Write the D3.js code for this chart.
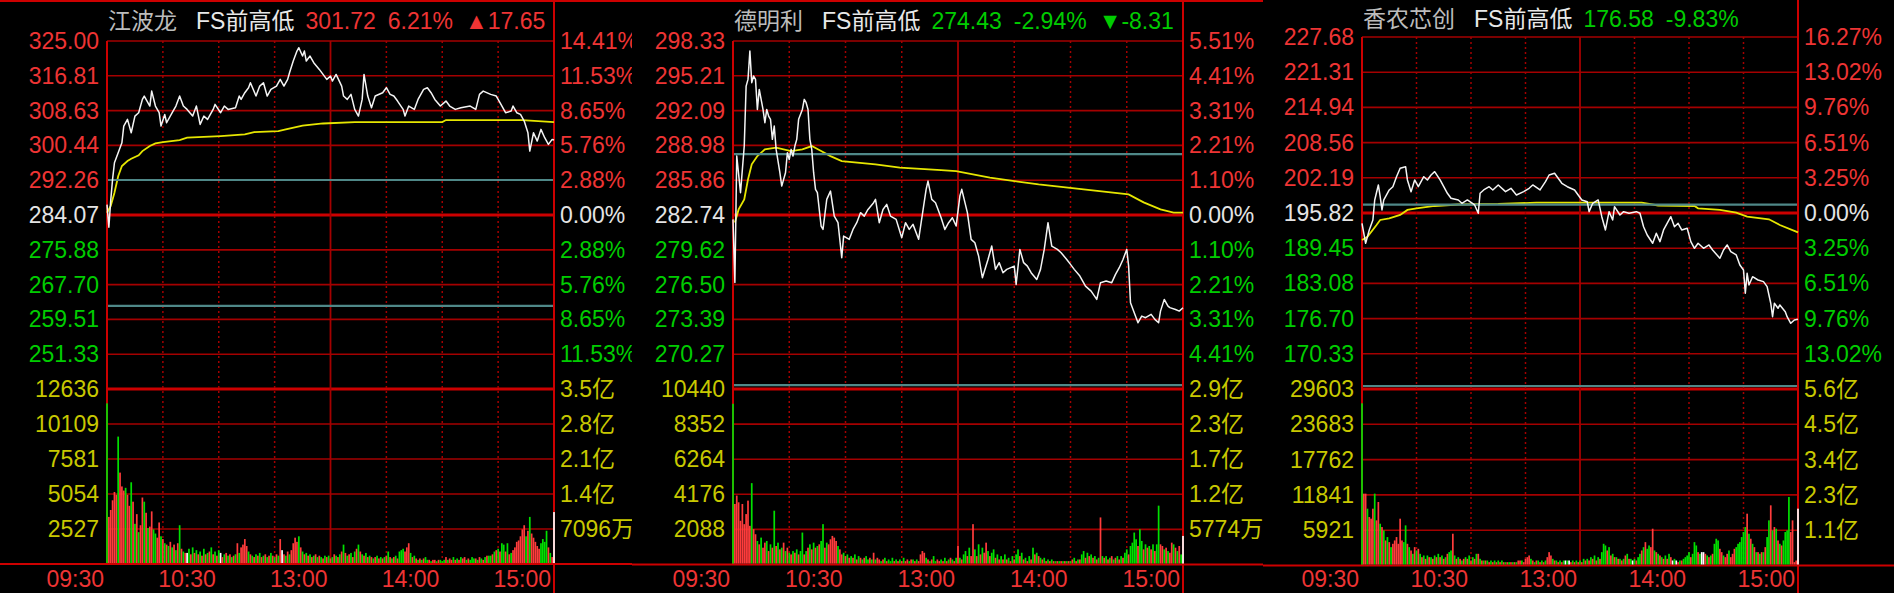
<!DOCTYPE html>
<html><head><meta charset="utf-8">
<script src="https://cdn.jsdelivr.net/npm/d3@7"></script>
<style>html,body{margin:0;padding:0;background:#000;overflow:hidden}</style>
</head><body>
<svg id="c" width="1894" height="593"></svg>
<script>
// ---------------- DATA ----------------
const names = ["江波龙", "德明利", "香农芯创"];
const prevClose = [284.07, 282.74, 195.82];
const lastPrice = [301.72, 274.43, 176.58];
const changePct = ["6.21%", "-2.94%", "-9.83%"];
const changeAmt = ["▲17.65", "▼-8.31", ""];
const prevHigh = [292.3, 288.2, 197.34];
const prevLow = [262.7, 267.5, 164.5];

const priceTicks1 = [325.00, 316.81, 308.63, 300.44, 292.26, 284.07, 275.88, 267.70, 259.51, 251.33];
const priceTicks2 = [298.33, 295.21, 292.09, 288.98, 285.86, 282.74, 279.62, 276.50, 273.39, 270.27];
const priceTicks3 = [227.68, 221.31, 214.94, 208.56, 202.19, 195.82, 189.45, 183.08, 176.70, 170.33];
const pctTicks1 = ["14.41%", "11.53%", "8.65%", "5.76%", "2.88%", "0.00%", "2.88%", "5.76%", "8.65%", "11.53%"];
const pctTicks2 = ["5.51%", "4.41%", "3.31%", "2.21%", "1.10%", "0.00%", "1.10%", "2.21%", "3.31%", "4.41%"];
const pctTicks3 = ["16.27%", "13.02%", "9.76%", "6.51%", "3.25%", "0.00%", "3.25%", "6.51%", "9.76%", "13.02%"];
const volTicks1 = [12636, 10109, 7581, 5054, 2527];
const volTicks2 = [10440, 8352, 6264, 4176, 2088];
const volTicks3 = [29603, 23683, 17762, 11841, 5921];
const amtTicks1 = ["3.5亿", "2.8亿", "2.1亿", "1.4亿", "7096万"];
const amtTicks2 = ["2.9亿", "2.3亿", "1.7亿", "1.2亿", "5774万"];
const amtTicks3 = ["5.6亿", "4.5亿", "3.4亿", "2.3亿", "1.1亿"];
const timeLabels = ["09:30", "10:30", "13:00", "14:00", "15:00"];
const timeMinutes = [0, 60, 120, 180, 240];

// price line: [minute index, price]
const price1 = [[0,286.5],[1,281.2],[2,287.5],[3,292.5],[4,296.37],[6,298.7],[8,301.07],[9,304.99],[11,306.56],[13,303.42],[15,307.34],[17,308.13],[19,311.26],[20,312.05],[23,309.7],[24,313.22],[26,309.7],[28,308.13],[29,304.99],[31,307.73],[32,305.77],[35,308.13],[37,309.7],[39,312.05],[41,309.7],[43,308.91],[46,307.34],[48,309.7],[50,305.38],[52,307.34],[54,306.56],[57,308.91],[58,310.09],[61,308.13],[63,309.7],[65,308.91],[69,309.3],[71,312.05],[72,311.26],[74,312.83],[76,314.01],[77,315.18],[80,312.05],[82,314.4],[84,315.18],[86,312.05],[88,313.61],[91,314.4],[93,315.97],[95,314.4],[97,315.97],[98,317.54],[100,320.28],[102,322.63],[103,323.42],[105,321.46],[106,322.63],[107,320.28],[109,321.46],[111,319.89],[114,318.32],[116,317.14],[118,315.97],[120,316.75],[121,315.58],[123,317.14],[126,314.4],[127,312.05],[129,311.26],[131,312.44],[133,308.91],[135,307.34],[137,311.26],[138,317.14],[140,312.05],[142,309.3],[144,312.05],[148,312.83],[150,314.01],[152,312.44],[154,312.05],[156,310.87],[159,308.91],[160,307.34],[162,309.7],[165,308.91],[167,311.26],[170,313.61],[172,314.01],[174,312.83],[176,311.26],[179,309.7],[182,310.87],[184,309.7],[187,308.91],[190,309.3],[195,309.7],[198,308.91],[200,312.44],[202,313.22],[206,312.44],[209,312.05],[211,310.48],[214,308.13],[217,308.52],[218,309.7],[220,308.13],[222,307.73],[224,306.17],[226,303.42],[227,299.11],[229,303.42],[231,301.46],[233,304.21],[235,302.25],[237,300.68],[239,301.85],[240,301.72]];
const price2 = [[0,282.35],[1,276.7],[2,288.02],[4,284.74],[6,288.92],[7,294.29],[8,294.89],[9,297.43],[10,294.6],[11,295.19],[12,294.89],[13,292.2],[14,293.99],[15,293.1],[16,292.2],[17,291.01],[18,292.2],[19,291.6],[20,291.31],[21,289.52],[22,290.71],[23,288.62],[25,286.53],[26,285.33],[27,285.93],[28,286.53],[29,288.32],[30,287.72],[31,288.62],[32,288.02],[33,288.92],[34,289.52],[35,291.31],[37,292.2],[38,293.1],[39,292.8],[40,292.2],[41,289.52],[42,288.62],[43,286.53],[44,285.04],[45,284.74],[47,281.75],[48,281.45],[50,284.14],[52,284.88],[54,282.64],[56,282.05],[58,278.92],[59,280.85],[62,280.56],[64,281.45],[66,282.05],[68,282.95],[70,282.64],[72,283.24],[75,283.84],[76,284.14],[78,282.05],[80,283.24],[82,283.69],[84,282.64],[87,282.35],[90,280.71],[92,282.05],[94,281.45],[96,281.9],[99,280.56],[101,282.79],[103,285.04],[104,285.78],[106,284.14],[108,283.84],[111,282.5],[113,281.45],[115,282.05],[117,282.5],[119,281.75],[121,284.44],[122,285.04],[125,282.95],[127,280.56],[129,280.26],[131,279.06],[133,277.12],[136,278.76],[138,279.96],[140,277.87],[142,278.47],[144,277.57],[146,277.87],[150,278.16],[151,276.52],[153,279.66],[155,278.47],[157,278.16],[159,277.57],[162,276.97],[164,277.87],[166,279.66],[168,282.05],[170,279.96],[173,279.66],[175,279.36],[178,278.76],[180,278.32],[182,277.87],[185,277.27],[188,276.37],[191,275.92],[194,275.18],[196,276.68],[199,276.82],[202,276.68],[204,277.42],[206,278.02],[208,278.76],[210,279.66],[211,278.16],[212,274.88],[214,273.99],[216,273.09],[218,273.68],[220,273.54],[223,273.84],[225,273.39],[227,273.09],[228,274.13],[230,275.18],[232,274.58],[233,274.44],[236,274.28],[238,274.13],[240,274.43]];
const price3 = [[0,193.96],[1,192.15],[2,190.34],[4,192.75],[6,194.56],[7,198.18],[9,200.89],[10,198.78],[11,196.37],[12,198.18],[15,199.99],[17,200.58],[19,202.39],[21,203.91],[24,204.2],[25,201.8],[27,199.68],[29,201.8],[31,200.58],[34,202.39],[36,201.8],[38,202.7],[40,203.3],[43,201.8],[45,200.58],[47,199.39],[49,198.48],[53,198.18],[55,197.58],[58,198.18],[62,197.27],[64,195.77],[65,199.39],[67,199.99],[70,200.58],[72,199.99],[75,200.89],[79,199.68],[82,200.29],[85,199.08],[89,199.68],[92,200.29],[94,200.89],[98,199.99],[101,201.49],[103,202.7],[106,203.01],[108,202.1],[110,201.2],[113,200.58],[117,199.99],[119,199.08],[121,198.18],[124,197.87],[125,196.06],[127,197.58],[130,198.18],[132,195.15],[134,192.75],[136,196.06],[138,194.56],[139,196.96],[142,195.46],[144,196.06],[147,195.77],[151,196.06],[153,195.77],[155,193.34],[157,191.84],[160,190.34],[162,192.15],[164,190.63],[166,192.75],[169,194.56],[170,195.15],[172,193.34],[174,193.96],[176,192.75],[179,193.05],[181,190.63],[183,189.43],[185,190.34],[188,189.43],[191,190.03],[193,189.12],[197,187.62],[199,189.12],[201,190.03],[203,188.82],[206,188.22],[208,186.41],[210,185.5],[211,181.29],[212,184.9],[213,182.79],[215,184.29],[218,183.69],[221,183.39],[223,182.48],[225,179.48],[226,177.05],[227,179.48],[229,178.57],[230,179.17],[233,177.96],[234,177.05],[236,175.85],[238,176.45],[240,176.58]];

// average price line: [minute index, price]
const avg1 = [[0,284.6],[2,286.2],[4,289.3],[6,293.2],[8,295.6],[11,296.76],[13,297.3],[17,298.1],[19,299.1],[23,300.3],[26,300.9],[30,301.2],[39,301.7],[43,302.25],[61,302.64],[74,303.03],[79,303.58],[92,303.8],[96,304.2],[105,305.1],[116,305.6],[133,305.93],[180,305.93],[182,306.4],[223,306.4],[240,305.93]];
const avg2 = [[1,282.08],[3,283.24],[6,284.14],[8,285.93],[10,287.28],[13,288.02],[17,288.62],[23,288.77],[31,288.47],[37,288.62],[42,288.92],[47,288.47],[52,288.02],[58,287.57],[76,287.28],[89,286.98],[111,286.77],[119,286.68],[137,286.08],[163,285.48],[187,285.04],[211,284.59],[219,283.87],[228,283.24],[235,282.95],[240,282.95]];
const avg3 = [[0,190.94],[3,191.53],[8,193.65],[10,194.56],[15,194.86],[21,195.46],[25,196.37],[30,196.67],[40,197.09],[53,197.36],[75,197.45],[96,197.69],[154,197.69],[163,197.18],[183,197.09],[185,196.67],[197,196.37],[206,195.88],[212,195.15],[224,194.68],[230,193.65],[239,192.44],[240,192.3]];

// minute volumes (241 per panel)
const vol1 = [11600,3400,3900,4600,5200,5000,9200,6600,5600,5300,
5500,5000,4200,5900,4500,2900,3600,2300,2800,4800,
4500,3700,2600,2700,3800,2500,2200,1900,3000,2000,
1800,1500,1400,1300,1600,1200,1400,1000,1500,2800,
1100,900,800,800,1100,700,1200,800,1000,700,
900,600,1100,700,800,900,1200,700,900,600,
1000,800,500,700,800,600,700,500,600,700,
1500,800,1200,1400,1800,1300,900,700,600,500,
700,600,800,500,600,700,500,600,800,600,
500,700,600,1800,1000,700,600,900,700,1000,
1500,1900,1600,2000,1200,900,700,800,600,700,
500,600,700,500,600,500,400,600,500,600,
400,500,700,600,500,700,900,1400,800,600,
700,800,500,900,1100,1400,900,700,600,800,
500,600,500,400,500,600,400,500,400,500,
600,900,500,400,500,600,400,900,1000,1100,
900,1200,1500,800,500,600,400,300,400,300,
400,500,300,300,200,300,300,200,300,300,
200,300,500,300,400,300,500,300,400,300,
500,400,500,300,400,300,500,400,400,300,
500,400,300,500,600,600,600,700,900,1000,
1100,900,1500,1400,900,1500,700,800,1000,1200,
1600,1700,2000,2500,2800,2000,2400,3400,2200,1900,
1600,1300,1100,1500,1800,1600,2400,1200,800,500,
3750];
const vol2 = [9560,3600,4100,3700,2600,3600,2400,3000,3800,2300,
4840,2100,1800,1400,1200,1600,1000,1300,1400,800,
1200,1000,3200,1100,1300,900,1000,1300,800,1000,
700,600,800,700,900,600,800,1900,600,800,
1000,1200,900,1300,1000,1100,1200,1400,2400,1000,
1300,1200,1500,1700,1600,1400,1100,900,600,700,
500,600,400,500,400,600,300,500,400,300,
400,500,300,400,300,700,300,400,300,200,
300,400,200,300,200,400,200,300,200,300,
200,400,200,300,200,300,300,200,300,200,
600,800,700,400,300,200,300,500,200,300,
200,300,200,400,200,300,400,300,200,400,
1100,400,300,600,800,500,1000,500,2400,900,
500,1200,600,1000,700,1300,800,500,700,900,
400,600,300,500,300,600,300,400,200,500,
300,600,900,500,700,300,400,200,500,300,
1000,600,700,500,400,300,400,200,300,200,
300,200,200,200,200,200,200,200,200,200,
200,300,400,200,300,300,600,800,400,700,
500,600,400,500,300,400,2800,500,400,500,
300,400,500,300,400,500,300,500,400,700,
900,600,1100,1300,1900,1500,1100,2100,1400,900,
1200,1000,1100,900,1200,800,1200,3500,1200,1100,
900,1000,800,700,1300,1200,1000,800,1100,600,
1700];
const vol3 = [27200,12050,12050,9530,8130,7850,9530,12050,7570,10650,
7010,6450,5890,4200,4770,3920,3080,3640,4200,4770,
3640,7850,4200,3920,6730,3640,3080,2520,1960,3080,
2520,2800,1960,1400,1680,1120,1680,1400,1400,1120,
1680,1400,1960,1400,1680,1120,1400,1960,2240,2520,
5330,1680,1120,1400,1120,840,1120,1400,1120,1680,
840,1400,1120,1960,1960,1120,840,840,840,840,
560,840,560,840,560,840,560,840,560,560,
560,560,560,560,560,560,840,840,840,560,
1120,1400,1680,1120,840,560,840,840,560,840,
560,840,1400,2240,1680,1120,840,840,560,840,
560,840,840,840,840,560,840,560,840,560,
840,560,1120,840,1120,840,1400,1120,1680,840,
1400,1120,2240,3640,3360,2520,3080,1680,1960,1400,
1400,1120,1120,840,1120,1680,1960,1120,1120,840,
1120,840,1400,1960,2520,3080,3920,2800,3360,3080,
6170,2520,2240,1960,1680,1400,1120,1680,1120,1960,
1400,840,1120,840,560,840,840,1120,1400,1680,
2240,1400,1960,3920,3360,2240,1960,2240,2240,1960,
1680,1400,1680,1960,3640,4490,4200,2800,2240,1680,
1400,1960,2520,1400,1960,2800,3080,3640,3920,4770,
5610,6450,8690,5330,4490,3640,3080,2240,2240,1960,
2240,2240,3080,4770,7570,10090,5890,6450,6170,4200,
3640,3360,4200,5610,5890,11490,5610,7570,560,840,
9530];

// per-minute tick direction: r = up, g = down, w = unchanged
const dir1 = "grrrrrgrrr"+"grrgrgrgrr"+"grgrrggrrg"+"rgrgrgrgrg"+"rgrwgrgrgr"+"grgrgrgrgr"+"gwrgrgrgrg"+"rgrrrrgrgr"+"grgrgrgrgr"+"grgrwrgrgr"+"rrrgrgrgrg"+"rgrgrgrgrg"+"rgrgrgrgrg"+"rgrgrgrgrg"+"rgrgrgrgrg"+"rgrgrgrggg"+"rrrgrgrgrg"+"rggrgrrgrg"+"ggrgrrgrgr"+"grrgrgggrg"+"rgrgrggrgr"+"grggrgrgrr"+"rrrrrgrgrr"+"rrrggggrgr"+"w";
const dir2 = "grrrrrrrrr"+"grrgrgrrgr"+"grgrgrgrgr"+"grgrgrggrg"+"rgrgrgrggr"+"grrrrrgrrg"+"rgrgrgrgrg"+"rggrgrgrrg"+"rgrgggrgrg"+"rgrrgrgrgr"+"rrrgrgrggr"+"rgrgrgrgrg"+"rgrggrgrrg"+"rgrgrrgrgg"+"rgrgrgrgrg"+"rggrgrgrgr"+"grgrgrgrgr"+"grgrgrgrgr"+"grgrgrggrg"+"rgrgrgrgrg"+"rgrgrgrgrg"+"grggggrggr"+"grgrgrggrr"+"grgrrgrgrg"+"w";
const dir3 = "grrgrrrgrr"+"grgrgrgrrr"+"rrrggrgrgr"+"grgrgrgrgr"+"grgrgrgrgg"+"rgrgrgrgrg"+"rgrgrgrgrg"+"rgrgrgrgrg"+"rgrgrgrrgr"+"rrrgrgrgrg"+"rgrrrgrgrg"+"rgwgwrgrgr"+"grgrgrgrgr"+"grgggrgrgr"+"grgrgrgrgw"+"grggrgrggr"+"rgrgrgrgrg"+"rwgwrgrggg"+"grgggrgwwr"+"grgrgggrrg"+"rrgrrrgggg"+"ggrgrgrgrg"+"rgrggrgrgr"+"grggggrrrr"+"w";

// ---------------- LAYOUT / STYLE ----------------
const W = 1894, H = 593;
const layout = [
  {x0: 0,    x1: 632,  L: 107,  R: 554,  T: 41, M: 389, B: 564,   ty: 29, top: true},
  {x0: 632,  x1: 1263, L: 733,  R: 1183, T: 41, M: 389, B: 564.5, ty: 29, top: true},
  {x0: 1263, x1: 1894, L: 1362, R: 1798, T: 37, M: 389, B: 565.5, ty: 27, top: false}
];
const FONT = '"Liberation Sans", Arial, "Noto Sans CJK SC", sans-serif';
const CJK = '"Noto Sans CJK SC", "Liberation Sans", sans-serif';
const C = {
  red: '#ee3434', green: '#00cc00', white: '#e4e4e4', yellow: '#c8c800',
  grid: '#a40000', gridStrong: '#cc0000', teal: '#4f8888',
  barRed: '#ff3c3c', barGreen: '#00e000', barWhite: '#ffffff',
  price: '#f4f4f4', avg: '#e6e600', name: '#bcbcbc', fs: '#e8e8e8'
};

const panels = [
  {name: names[0], pc: prevClose[0], last: lastPrice[0], pct: changePct[0], amt: changeAmt[0], hi: prevHigh[0], lo: prevLow[0],
   ticks: priceTicks1, pcts: pctTicks1, vticks: volTicks1, aticks: amtTicks1, price: price1, avg: avg1, vol: vol1, dir: dir1},
  {name: names[1], pc: prevClose[1], last: lastPrice[1], pct: changePct[1], amt: changeAmt[1], hi: prevHigh[1], lo: prevLow[1],
   ticks: priceTicks2, pcts: pctTicks2, vticks: volTicks2, aticks: amtTicks2, price: price2, avg: avg2, vol: vol2, dir: dir2},
  {name: names[2], pc: prevClose[2], last: lastPrice[2], pct: changePct[2], amt: changeAmt[2], hi: prevHigh[2], lo: prevLow[2],
   ticks: priceTicks3, pcts: pctTicks3, vticks: volTicks3, aticks: amtTicks3, price: price3, avg: avg3, vol: vol3, dir: dir3}
];

const svg = d3.select('#c');
svg.append('rect').attr('width', W).attr('height', H).attr('fill', '#000');

function hline(g, xa, xb, y, c, w, dash) {
  g.append('line').attr('x1', xa).attr('x2', xb).attr('y1', y).attr('y2', y)
    .attr('stroke', c).attr('stroke-width', w).attr('stroke-dasharray', dash || null);
}
function vline(g, x, ya, yb, c, w, dash) {
  g.append('line').attr('x1', x).attr('x2', x).attr('y1', ya).attr('y2', yb)
    .attr('stroke', c).attr('stroke-width', w).attr('stroke-dasharray', dash || null);
}
function text(g, x, y, s, c, anchor, size, family) {
  return g.append('text').attr('x', x).attr('y', y).attr('fill', c)
    .attr('text-anchor', anchor || 'start').attr('font-size', size || 23)
    .attr('font-family', family || FONT).text(s);
}

panels.forEach((p, k) => {
  const Ly = layout[k];
  const g = svg.append('g');
  g.append('rect').attr('x', Ly.x0).attr('y', 0).attr('width', Ly.x1 - Ly.x0).attr('height', H).attr('fill', '#000');

  const n = p.ticks.length;
  const step = (p.ticks[0] - p.ticks[n - 1]) / (n - 1);
  const x = d3.scaleLinear().domain([0, 240]).range([Ly.L, Ly.R]);
  const y = d3.scaleLinear().domain([p.ticks[n - 1] - step, p.ticks[0]]).range([Ly.M, Ly.T]);
  const v = d3.scaleLinear().domain([0, p.vticks[0]]).range([Ly.B, Ly.M]);

  // grid: price
  p.ticks.forEach(t => {
    const zero = Math.abs(t - p.pc) < 1e-6;
    hline(g, Ly.L, Ly.R, y(t), zero ? C.gridStrong : C.grid, zero ? 3 : 1.6);
  });
  // grid: volume
  p.vticks.forEach((t, i) => hline(g, Ly.L, Ly.R, v(t), i === 0 ? C.gridStrong : C.grid, i === 0 ? 3 : 1.6));
  hline(g, Ly.x0, Ly.x1, Ly.B, C.gridStrong, 2);
  // vertical grid
  [30, 60, 90, 150, 180, 210].forEach(m => vline(g, x(m), Ly.T, Ly.B, C.grid, 1.5, '2,3'));
  vline(g, x(120), Ly.T, Ly.B, C.grid, 1.8);
  // borders
  vline(g, Ly.L, Ly.T, Ly.B, C.gridStrong, 2);
  vline(g, Ly.R, 0, H, C.gridStrong, 2);
  if (Ly.top) hline(g, Ly.x0, Ly.x1, 1, C.gridStrong, 2);

  // volume bars
  const colorOf = ch => ch === 'g' ? C.barGreen : (ch === 'w' ? C.barWhite : C.barRed);
  g.append('g').selectAll('rect').data(p.vol).join('rect')
    .attr('x', (d, i) => x(i) - 0.85).attr('width', 1.7)
    .attr('y', d => v(d)).attr('height', d => Math.max(0, Ly.B - 1 - v(d)))
    .attr('fill', (d, i) => colorOf(p.dir[i] || 'r'));

  // avg line, previous high/low lines, price line
  const ln = d3.line().x(d => x(d[0])).y(d => y(d[1]));
  g.append('path').attr('d', ln(p.avg)).attr('fill', 'none').attr('stroke', C.avg).attr('stroke-width', 1.8);
  hline(g, Ly.L + 1, Ly.R - 1, y(p.hi), C.teal, 2.2);
  hline(g, Ly.L + 1, Ly.R - 1, y(p.lo), C.teal, 2.2);
  g.append('path').attr('d', ln(p.price)).attr('fill', 'none').attr('stroke', C.price)
    .attr('stroke-width', 1.5).attr('stroke-linejoin', 'round');

  // axis labels
  p.ticks.forEach((t, i) => {
    const col = Math.abs(t - p.pc) < 1e-6 ? C.white : (t > p.pc ? C.red : C.green);
    text(g, Ly.L - 8, y(t) + 8, t.toFixed(2), col, 'end');
    text(g, Ly.R + 6, y(t) + 8, p.pcts[i], col, 'start');
  });
  p.vticks.forEach((t, i) => {
    text(g, Ly.L - 8, v(t) + 8, String(t), C.yellow, 'end');
    text(g, Ly.R + 6, v(t) + 8, p.aticks[i], C.yellow, 'start');
  });
  timeLabels.forEach((s, i) => text(g, x(timeMinutes[i]) - 3, 587, s, C.red, 'end', 23));

  // title
  let tx = Ly.L + 1;
  const t1 = text(g, tx, Ly.ty, p.name, C.name, 'start', 23, CJK);
  tx += t1.node().getComputedTextLength() + 19;
  const t2 = text(g, tx, Ly.ty, 'FS前高低', C.fs, 'start', 23, FONT);
  tx += t2.node().getComputedTextLength() + 11;
  const vc = p.last >= p.pc ? C.red : C.green;
  [p.last.toFixed(2), p.pct, p.amt].forEach(s => {
    if (!s) return;
    const t = text(g, tx, Ly.ty, s, vc, 'start', 23);
    tx += t.node().getComputedTextLength() + 12;
  });
});
</script>
</body></html>
